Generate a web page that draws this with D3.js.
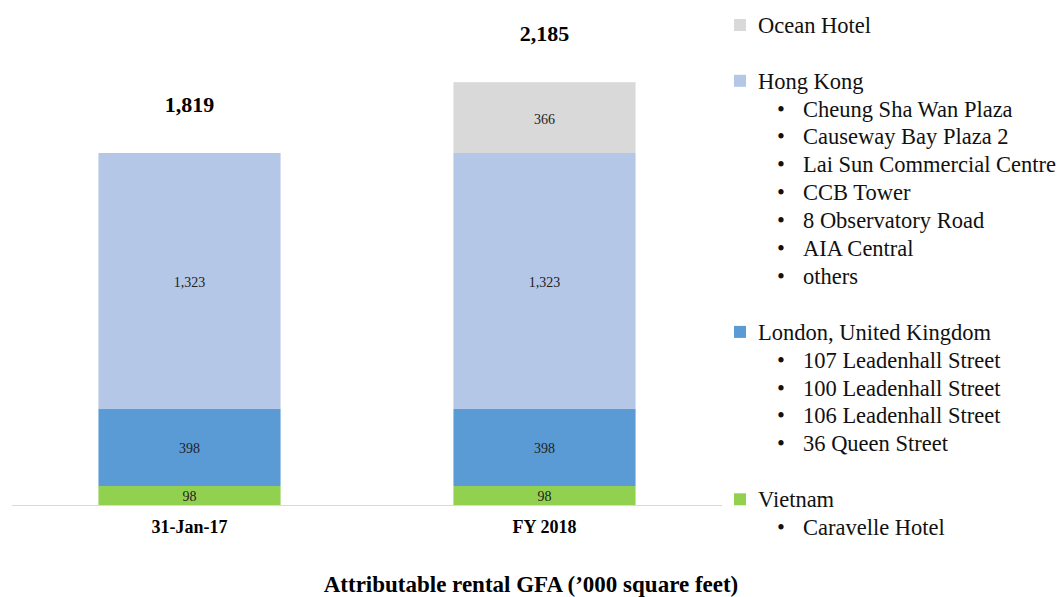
<!DOCTYPE html>
<html>
<head>
<meta charset="utf-8">
<script src="https://cdn.jsdelivr.net/npm/d3@7"></script>
<style>
  body { margin: 0; background: #fff; }
  svg { display: block; font-family: "Liberation Serif", "Times New Roman", serif; }
</style>
</head>
<body>
<svg id="chart" width="1060" height="597"></svg>
<script>
// categories and series
const periods = ["31-Jan-17", "FY 2018"];
const regions = ["Vietnam", "London, United Kingdom", "Hong Kong", "Ocean Hotel"];
const vietnam = [98, 98];
const london = [398, 398];
const hongKong = [1323, 1323];
const oceanHotel = [0, 366];
const totals = [1819, 2185];
const colors = ["#92d050", "#5b9bd5", "#b4c7e7", "#d9d9d9"];

// legend text, top to bottom
const legendGroups = [
    { name: "Ocean Hotel", items: [] },
    { name: "Hong Kong", items: ["Cheung Sha Wan Plaza", "Causeway Bay Plaza 2", "Lai Sun Commercial Centre", "CCB Tower", "8 Observatory Road", "AIA Central", "others"] },
    { name: "London, United Kingdom", items: ["107 Leadenhall Street", "100 Leadenhall Street", "106 Leadenhall Street", "36 Queen Street"] },
    { name: "Vietnam", items: ["Caravelle Hotel"] }
];
const legendColors = ["#d9d9d9", "#b4c7e7", "#5b9bd5", "#92d050"];
const axisTitle = "Attributable rental GFA (\u2019000 square feet)";

const svg = d3.select("#chart");

const table = periods.map((p, i) => ({
    period: p,
    "Vietnam": vietnam[i],
    "London, United Kingdom": london[i],
    "Hong Kong": hongKong[i],
    "Ocean Hotel": oceanHotel[i],
    total: totals[i]
}));

const series = d3.stack().keys(regions)(table);

const x = d3.scaleBand()
    .domain(periods)
    .range([12, 722])
    .paddingInner(0.487)
    .paddingOuter(0.2435);

const y = d3.scaleLinear()
    .domain([0, 1323])
    .range([505, 249]);

const fmt = d3.format(",");

// bars
const layer = svg.append("g")
    .selectAll("g")
    .data(series)
    .join("g")
    .attr("fill", (d, i) => colors[i]);

layer.selectAll("rect")
    .data(d => d.filter(s => s[1] - s[0] > 0))
    .join("rect")
    .attr("x", d => x(d.data.period))
    .attr("y", d => y(d[1]))
    .attr("width", x.bandwidth())
    .attr("height", d => y(d[0]) - y(d[1]));

layer.selectAll("text")
    .data(d => d.filter(s => s[1] - s[0] > 0))
    .join("text")
    .attr("x", d => x(d.data.period) + x.bandwidth() / 2)
    .attr("y", d => (y(d[0]) + y(d[1])) / 2 + 1)
    .attr("dy", "0.35em")
    .attr("text-anchor", "middle")
    .attr("font-size", 14)
    .attr("fill", "#222")
    .text(d => fmt(d[1] - d[0]));

// baseline
svg.append("line")
    .attr("x1", 12).attr("x2", 722)
    .attr("y1", y(0) + 0.5).attr("y2", y(0) + 0.5)
    .attr("stroke", "#d9d9d9")
    .attr("stroke-width", 1);

// totals
svg.append("g")
    .selectAll("text")
    .data(table)
    .join("text")
    .attr("x", d => x(d.period) + x.bandwidth() / 2)
    .attr("y", d => y(d.total) - 49)
    .attr("dy", "0.35em")
    .attr("text-anchor", "middle")
    .attr("font-size", 22)
    .attr("font-weight", "bold")
    .text(d => fmt(d.total));

// category labels
svg.append("g")
    .selectAll("text")
    .data(periods)
    .join("text")
    .attr("x", d => x(d) + x.bandwidth() / 2)
    .attr("y", 527)
    .attr("dy", "0.35em")
    .attr("text-anchor", "middle")
    .attr("font-size", 18)
    .attr("font-weight", "bold")
    .text(d => d);

// title
svg.append("text")
    .attr("x", 531)
    .attr("y", 584)
    .attr("dy", "0.35em")
    .attr("text-anchor", "middle")
    .attr("font-size", 23)
    .attr("font-weight", "bold")
    .text(axisTitle);

// legend, laid out as lines with a blank line between groups
let lines = [];
legendGroups.forEach((g, gi) => {
    if (gi > 0) lines.push(null);
    lines.push({ head: true, text: g.name, color: legendColors[gi] });
    g.items.forEach(t => lines.push({ head: false, text: t }));
});

const lineH = 27.9;
const legend = svg.append("g").attr("font-size", 22.5).attr("fill", "#111");

lines.forEach((l, i) => {
    if (!l) return;
    const cy = 25 + i * lineH;
    if (l.head) {
        legend.append("rect")
            .attr("x", 734).attr("y", cy - 6)
            .attr("width", 12).attr("height", 12)
            .attr("fill", l.color);
        legend.append("text")
            .attr("x", 758).attr("y", cy).attr("dy", "0.35em")
            .text(l.text);
    } else {
        legend.append("text")
            .attr("x", 777).attr("y", cy).attr("dy", "0.35em")
            .text("\u2022");
        legend.append("text")
            .attr("x", 803).attr("y", cy).attr("dy", "0.35em")
            .text(l.text);
    }
});
</script>
</body>
</html>
